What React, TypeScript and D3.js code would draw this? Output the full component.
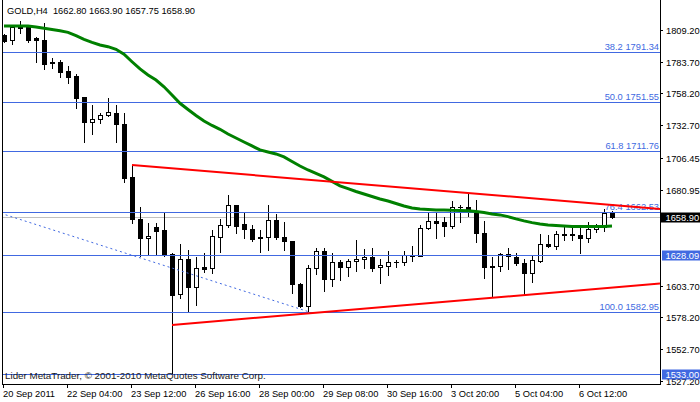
import React from 'react';
import * as d3 from 'd3';

const W = 700;
const H = 402;

const headerText = 'GOLD,H4  1662.80 1663.90 1657.75 1658.90';
const copyrightText = 'Lider MetaTrader, © 2001-2010 MetaQuotes Software Corp.';

const opens = [1805.2, 1801.2, 1811.6, 1811.6, 1802.4, 1801.2, 1783.1, 1783.5, 1776.3, 1772.2, 1755.4, 1735.3, 1737.7, 1740.9, 1742.5, 1733.7, 1691.1, 1657.4, 1642.1, 1650.9, 1648.5, 1629.2, 1597.1, 1625.2, 1602.7, 1618.8, 1618.0, 1642.9, 1652.5, 1668.6, 1653.3, 1649.3, 1642.9, 1642.9, 1656.6, 1642.9, 1639.7, 1605.1, 1587.5, 1618.0, 1631.6, 1609.2, 1622.8, 1618.8, 1623.6, 1625.2, 1626.8, 1618.8, 1619.6, 1622.8, 1622.8, 1628.0, 1627.9, 1650.1, 1655.8, 1654.9, 1651.7, 1667.2, 1667.0, 1663.0, 1646.1, 1619.6, 1619.6, 1629.2, 1626.8, 1622.0, 1614.0, 1623.9, 1637.3, 1635.7, 1645.3, 1645.3, 1644.5, 1642.1, 1649.3, 1650.9, 1662.8];
const highs = [1806.0, 1813.2, 1816.4, 1812.4, 1803.6, 1814.8, 1786.7, 1785.1, 1780.3, 1773.8, 1755.4, 1748.9, 1742.5, 1754.6, 1748.9, 1742.5, 1700.7, 1667.0, 1654.1, 1654.1, 1662.2, 1630.0, 1637.3, 1632.4, 1626.8, 1630.0, 1648.5, 1657.4, 1676.6, 1668.6, 1662.2, 1652.5, 1648.5, 1668.6, 1661.4, 1655.0, 1639.7, 1605.9, 1620.4, 1634.1, 1634.1, 1630.0, 1624.4, 1625.2, 1640.5, 1633.2, 1634.1, 1625.2, 1631.6, 1624.4, 1631.6, 1635.7, 1652.5, 1663.0, 1662.2, 1658.9, 1671.8, 1668.6, 1678.2, 1672.6, 1655.8, 1626.8, 1630.0, 1634.1, 1630.0, 1625.2, 1628.4, 1645.3, 1644.5, 1647.7, 1651.7, 1651.7, 1650.9, 1655.0, 1653.3, 1665.4, 1663.9];
const lows = [1799.6, 1798.0, 1806.8, 1799.6, 1783.5, 1777.9, 1778.7, 1771.4, 1766.6, 1746.5, 1719.2, 1725.6, 1734.5, 1740.1, 1719.2, 1687.1, 1654.1, 1627.6, 1628.4, 1628.4, 1627.6, 1533.0, 1593.9, 1583.4, 1588.3, 1614.8, 1614.0, 1630.8, 1650.9, 1646.1, 1642.1, 1639.7, 1630.8, 1632.4, 1641.3, 1632.4, 1597.9, 1586.7, 1582.95, 1613.2, 1599.5, 1603.5, 1608.3, 1611.6, 1615.6, 1618.0, 1615.6, 1605.9, 1612.4, 1618.8, 1620.4, 1623.6, 1627.6, 1649.3, 1642.1, 1643.7, 1650.1, 1655.0, 1659.8, 1638.9, 1610.0, 1594.7, 1615.6, 1617.2, 1620.4, 1596.3, 1606.7, 1622.8, 1634.9, 1633.2, 1640.5, 1640.5, 1630.0, 1638.9, 1646.9, 1647.7, 1657.75];
const closes = [1800.4, 1811.6, 1811.2, 1801.2, 1800.8, 1781.9, 1782.3, 1775.5, 1771.4, 1754.6, 1735.3, 1737.7, 1740.9, 1743.3, 1733.7, 1690.3, 1657.4, 1642.1, 1643.7, 1647.7, 1628.4, 1596.3, 1625.2, 1602.7, 1618.0, 1617.2, 1643.7, 1652.5, 1668.6, 1651.7, 1649.3, 1641.3, 1641.7, 1656.6, 1642.9, 1639.7, 1605.1, 1587.5, 1618.0, 1631.6, 1609.2, 1622.8, 1618.8, 1623.6, 1625.2, 1626.8, 1618.0, 1620.4, 1622.8, 1622.4, 1628.4, 1628.4, 1649.9, 1655.8, 1654.1, 1651.7, 1667.0, 1666.8, 1665.4, 1646.1, 1618.8, 1618.6, 1629.2, 1627.6, 1622.0, 1614.0, 1624.4, 1637.0, 1635.7, 1645.3, 1644.5, 1644.1, 1642.1, 1649.3, 1650.9, 1662.2, 1658.9];
const maValues = [1812.4, 1812.4, 1812.4, 1812.4, 1811.6, 1810.6, 1809.6, 1808.6, 1807.3, 1804.6, 1801.7, 1799.3, 1797.2, 1795.8, 1793.7, 1789.7, 1783.7, 1777.9, 1773.1, 1769.0, 1763.6, 1757.0, 1750.3, 1745.3, 1740.5, 1736.1, 1732.5, 1729.4, 1725.6, 1722.4, 1719.2, 1716.0, 1712.8, 1711.2, 1709.6, 1707.2, 1703.5, 1699.9, 1696.7, 1693.9, 1691.1, 1687.5, 1683.9, 1681.7, 1679.4, 1677.4, 1675.4, 1673.4, 1671.8, 1669.8, 1667.8, 1666.2, 1665.4, 1665.0, 1664.6, 1664.6, 1664.3, 1664.2, 1664.0, 1663.4, 1662.6, 1661.4, 1660.6, 1659.2, 1657.4, 1655.8, 1654.4, 1653.3, 1652.5, 1652.0, 1651.6, 1651.3, 1651.2, 1651.2, 1651.2, 1651.3, 1651.7];

const yTicks = [1809.2, 1783.7, 1758.2, 1732.7, 1706.45, 1680.95, 1603.7, 1578.2, 1552.7, 1527.2];
const xTickBars = [0, 8, 16, 24, 32, 40, 48, 56, 64, 72];
const xTickLabels = ['20 Sep 2011', '22 Sep 04:00', '23 Sep 12:00', '26 Sep 16:00', '28 Sep 00:00', '29 Sep 08:00', '30 Sep 16:00', '3 Oct 20:00', '5 Oct 04:00', '6 Oct 12:00'];

const fibHigh = 1920.15;
const fibLow = 1582.95;
const fibStartBar = -126;
const fibEndBar = 38;
const fibLevels = [38.2, 50.0, 61.8, 76.4, 100.0];

const hLines = [1628.09, 1533.0];
const bidPrice = 1658.9;

const upperTrend = [[16, 1700.7], [58, 1678.2]];
const lowerTrend = [[21, 1572.2], [61, 1594.0]];

const FONT = '"Liberation Sans", Arial, sans-serif';
const BLUE = '#4169E1';
const FS = 9.3;

export default function App() {
  const plotL = 2, plotR = 660, plotT = 0, plotB = 384;
  const x = d3.scaleLinear().domain([0, 76]).range([4, 612]);
  const y = d3.scaleLinear().domain([1603.7, 1809.2]).range([285.7, 30]);
  const ry = (v: number) => Math.round(y(v));
  const rightBar = x.invert(plotR);

  const trendPts = (t: number[][]) => {
    const [[b0, p0], [b1, p1]] = t;
    const slope = (p1 - p0) / (b1 - b0);
    return [[b0, p0], [rightBar, p0 + slope * (rightBar - b0)]];
  };
  const lineGen = d3.line<number[]>().x(d => x(d[0])).y(d => y(d[1]));
  const maLine = d3.line<number>().x((_, i) => x(i)).y(d => y(d));

  const fibPrice = (lv: number) => fibHigh - (lv / 100) * (fibHigh - fibLow);

  return (
    <svg width={W} height={H} style={{ position: 'absolute', left: 0, top: 0, background: '#fff' }} fontFamily={FONT}>
      <defs>
        <clipPath id="plot">
          <rect x={plotL + 1} y={plotT} width={plotR - plotL - 1} height={plotB - plotT} />
        </clipPath>
      </defs>
      <rect x={0} y={0} width={W} height={H} fill="#fff" />
      <g clipPath="url(#plot)">
        <line x1={plotL} x2={plotR} y1={ry(bidPrice) + 0.5} y2={ry(bidPrice) + 0.5} stroke="#C0C0C0" strokeWidth={1} />
        {opens.map((o, i) => {
          const c = closes[i];
          const cx = Math.round(x(i));
          const hy = ry(highs[i]);
          const ly = ry(lows[i]);
          const top = ry(Math.max(o, c));
          const bot = ry(Math.min(o, c));
          const bull = c > o;
          return (
            <g key={i} shapeRendering="crispEdges">
              <rect x={cx} y={hy} width={1} height={ly - hy + 1} fill="#000" />
              {bull ? (
                <rect x={cx - 1.5} y={top + 0.5} width={4} height={Math.max(bot - top, 1)} fill="#fff" stroke="#000" strokeWidth={1} />
              ) : (
                <rect x={cx - 2} y={top} width={5} height={Math.max(bot - top + 1, 1)} fill="#000" />
              )}
            </g>
          );
        })}
        {hLines.map((p, i) => (
          <line key={i} x1={plotL} x2={plotR} y1={ry(p) + 0.5} y2={ry(p) + 0.5} stroke={BLUE} strokeWidth={1} />
        ))}
        {fibLevels.map((lv, i) => {
          const p = fibPrice(lv);
          const yy = ry(p) + 0.5;
          return (
            <g key={i}>
              <line x1={plotL} x2={plotR} y1={yy} y2={yy} stroke={BLUE} strokeWidth={1} />
              <text x={659} y={yy - 2.5} textAnchor="end" fontSize={FS} fill={BLUE}>
                {lv.toFixed(1)} {p.toFixed(2)}
              </text>
            </g>
          );
        })}
        <line
          x1={x(fibStartBar)} y1={y(fibHigh)} x2={x(fibEndBar)} y2={y(fibLow)}
          stroke={BLUE} strokeWidth={1} strokeDasharray="2,3"
        />
        <path d={maLine(maValues) || ''} fill="none" stroke="#008000" strokeWidth={3} />
        <path d={lineGen(trendPts(upperTrend)) || ''} fill="none" stroke="#FF0000" strokeWidth={2} />
        <path d={lineGen(trendPts(lowerTrend)) || ''} fill="none" stroke="#FF0000" strokeWidth={2} />
      </g>

      <g shapeRendering="crispEdges">
        <line x1={plotL + 0.5} x2={plotL + 0.5} y1={0} y2={plotB + 0.5} stroke="#000" />
        <line x1={plotR + 0.5} x2={plotR + 0.5} y1={0} y2={plotB + 0.5} stroke="#000" />
        <line x1={plotL} x2={plotR + 1} y1={plotB + 0.5} y2={plotB + 0.5} stroke="#000" />
      </g>

      <text x={7} y={13.5} fontSize={FS} fill="#000" textLength={188} lengthAdjust="spacing" style={{ whiteSpace: 'pre' }}>{headerText}</text>
      <text x={5} y={379} fontSize={9.8} fill="#1a1a1a">{copyrightText}</text>

      {yTicks.map((t, i) => {
        const yy = ry(t) + 0.5;
        return (
          <g key={i}>
            <line x1={661} x2={663} y1={yy} y2={yy} stroke="#000" shapeRendering="crispEdges" />
            <text x={666} y={yy + 3.3} fontSize={FS} fill="#000">{t.toFixed(2)}</text>
          </g>
        );
      })}
      {hLines.map((p, i) => {
        const yy = ry(p) + 0.5;
        return (
          <g key={i}>
            <rect x={662} y={yy - 5} width={38} height={10} fill={BLUE} />
            <text x={665.5} y={yy + 3.3} fontSize={FS} fill="#fff">{p.toFixed(2)}</text>
          </g>
        );
      })}
      <g>
        <rect x={661} y={ry(bidPrice) + 0.5 - 5} width={39} height={10} fill="#000" />
        <text x={665.5} y={ry(bidPrice) + 3.8} fontSize={FS} fill="#fff">{bidPrice.toFixed(2)}</text>
      </g>

      {xTickBars.map((b, i) => {
        const xx = Math.round(x(b)) - 0.5;
        return (
          <g key={i}>
            <line x1={xx} x2={xx} y1={plotB} y2={plotB + 4} stroke="#000" shapeRendering="crispEdges" />
            <text x={xx - 0.5} y={396.5} fontSize={FS} fill="#000">{xTickLabels[i]}</text>
          </g>
        );
      })}
    </svg>
  );
}
